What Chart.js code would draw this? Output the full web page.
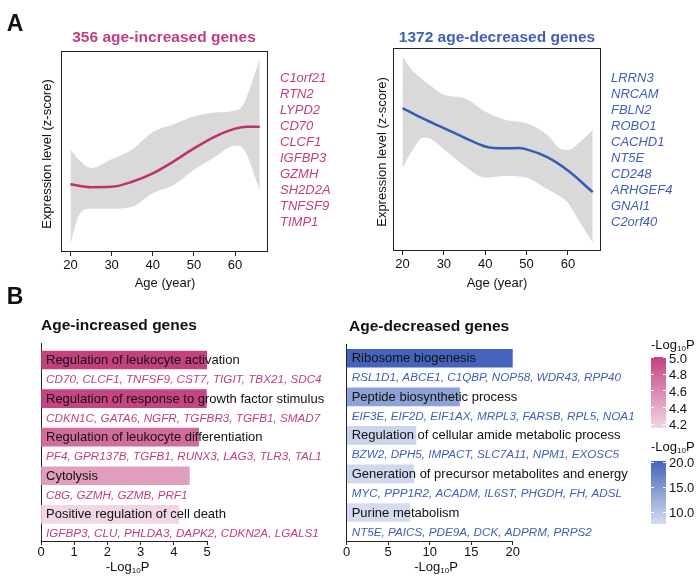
<!DOCTYPE html>
<html>
<head>
<meta charset="utf-8">
<script src="https://cdn.jsdelivr.net/npm/chart.js@4.4.1/dist/chart.umd.min.js"></script>
<style>
    body { margin: 0; background: #fff; font-family: 'Liberation Sans', Arial, sans-serif; }
    #fig { position: relative; width: 700px; height: 582px; overflow: hidden; background: #fff; }
    #fig canvas { position: absolute; }
    .t { position: absolute; white-space: nowrap; line-height: 1; transform: translate(-50%, -50%); color: #111; }
    .l { position: absolute; white-space: nowrap; line-height: 1; transform: translateY(-50%); color: #111; }
    .yt { position: absolute; white-space: nowrap; line-height: 14px; height: 14px; width: 160px; text-align: center;
          transform-origin: 0 0; transform: rotate(-90deg); color: #111; font-size: 13px; }
    .pink { color: #c23d80; }
    .blue { color: #3f5fb7; }
    .it { font-style: italic; }
    sub { font-size: 62%; vertical-align: -0.25em; line-height: 0; }
    .cbar { position: absolute; width: 15px; }
    .ctick { position: absolute; width: 3px; height: 1px; background: #fff; }
</style>
</head>
<body>
<div id="fig">
    <canvas id="incTrend" width="350" height="300" style="left:0;top:0"></canvas>
    <canvas id="decTrend" width="350" height="300" style="left:350px;top:0"></canvas>
    <canvas id="incBars" width="340" height="282" style="left:0;top:300px"></canvas>
    <canvas id="decBars" width="360" height="282" style="left:340px;top:300px"></canvas>

    <div class="t" style="left:15px;top:23px;font-size:23px;font-weight:bold">A</div>
    <div class="t" style="left:15px;top:296px;font-size:23px;font-weight:bold">B</div>

    <div class="t pink" style="left:164px;top:36.5px;font-size:15.5px;font-weight:bold">356 age-increased genes</div>
    <div class="t blue" style="left:497px;top:36.5px;font-size:15.5px;font-weight:bold">1372 age-decreased genes</div>

    <div class="yt" style="left:40px;top:234px">Expression level (z-score)</div>
    <div class="yt" style="left:375px;top:232px">Expression level (z-score)</div>

    <div class="t" style="left:165px;top:282px;font-size:13px">Age (year)</div>
    <div class="t" style="left:497px;top:282px;font-size:13px">Age (year)</div>

    <div class="l" style="left:41px;top:325px;font-size:15.5px;font-weight:bold">Age-increased genes</div>
    <div class="l" style="left:349px;top:326px;font-size:15.5px;font-weight:bold">Age-decreased genes</div>

    <div class="t" style="left:127.5px;top:566px;font-size:13px">-Log<sub>10</sub>P</div>
    <div class="t" style="left:436px;top:566px;font-size:13px">-Log<sub>10</sub>P</div>

    <div class="l" style="left:651px;top:344px;font-size:13px">-Log<sub>10</sub>P</div>
    <div class="l" style="left:651px;top:446px;font-size:13px">-Log<sub>10</sub>P</div>
</div>

<script>
// panel A: smoothed expression trajectories (z-score, plotted on a 0-10 box scale)
const ageTicks = [20, 30, 40, 50, 60];

const incEnvAges = [20, 22, 25, 30, 35, 40, 45, 50, 55, 60, 62, 66];
const incUpper = [4.9, 4.38, 3.95, 4.4, 4.9, 5.8, 6.2, 6.6, 6.8, 6.9, 7.2, 9.5];
const incLower = [0.2, 1.55, 1.9, 1.9, 2.0, 2.7, 3.1, 3.9, 4.55, 5.15, 5.0, 2.9];
const incTrendAges = [20, 25, 30, 35, 40, 45, 50, 55, 60, 63, 66];
const incTrendVals = [3.13, 2.98, 3.0, 3.26, 3.69, 4.3, 4.98, 5.58, 6.0, 6.1, 6.1];
const incTopGenes = ['C1orf21', 'RTN2', 'LYPD2', 'CD70', 'CLCF1', 'IGFBP3', 'GZMH', 'SH2D2A', 'TNFSF9', 'TIMP1'];

const decEnvAges = [20, 22, 25, 27, 30, 35, 40, 45, 50, 55, 58, 60, 63, 66];
const decUpper = [9.54, 8.9, 8.33, 8.0, 7.56, 7.39, 6.7, 6.27, 6.1, 5.5, 4.81, 4.73, 5.15, 5.76];
const decLower = [3.87, 4.64, 5.41, 5.33, 4.81, 3.95, 3.35, 3.44, 3.35, 2.75, 2.4, 2.06, 1.03, 0.03];
const decTrendAges = [20, 25, 30, 35, 40, 42, 45, 48, 50, 55, 60, 66];
const decTrendVals = [6.91, 6.36, 5.88, 5.38, 4.93, 4.85, 4.84, 4.85, 4.78, 4.38, 3.69, 2.58];
const decTopGenes = ['LRRN3', 'NRCAM', 'FBLN2', 'ROBO1', 'CACHD1', 'NT5E', 'CD248', 'ARHGEF4', 'GNAI1', 'C2orf40'];

// panel B: enrichment
const incTerms = ['Regulation of leukocyte activation', 'Regulation of response to growth factor stimulus',
    'Regulation of leukocyte differentiation', 'Cytolysis', 'Positive regulation of cell death'];
const incLogP = [5.0, 4.98, 4.75, 4.47, 4.15];
const incGenes = ['CD70, CLCF1, TNFSF9, CST7, TIGIT, TBX21, SDC4', 'CDKN1C, GATA6, NGFR, TGFBR3, TGFB1, SMAD7',
    'PF4, GPR137B, TGFB1, RUNX3, LAG3, TLR3, TAL1', 'C8G, GZMH, GZMB, PRF1',
    'IGFBP3, CLU, PHLDA3, DAPK2, CDKN2A, LGALS1'];
const incTicks = [0, 1, 2, 3, 4, 5];
const incScaleTicks = [5.0, 4.8, 4.6, 4.4, 4.2];

const decTerms = ['Ribosome biogenesis', 'Peptide biosynthetic process', 'Regulation of cellular amide metabolic process',
    'Generation of precursor metabolites and energy', 'Purine metabolism'];
const decLogP = [20.1, 13.6, 8.35, 8.05, 7.6];
const decGenes = ['RSL1D1, ABCE1, C1QBP, NOP58, WDR43, RPP40', 'EIF3E, EIF2D, EIF1AX, MRPL3, FARSB, RPL5, NOA1',
    'BZW2, DPH5, IMPACT, SLC7A11, NPM1, EXOSC5', 'MYC, PPP1R2, ACADM, IL6ST, PHGDH, FH, ADSL',
    'NT5E, PAICS, PDE9A, DCK, ADPRM, PRPS2'];
const decTicks = [0, 5, 10, 15, 20];
const decScaleTicks = [20.0, 15.0, 10.0];

const FONT = "'Liberation Sans', Arial, sans-serif";
const PINK = '#c23d80';
const BLUE = '#3f5fb7';
const GREY = '#d9d9d9';

const pts = (xs, ys) => xs.map((x, i) => ({ x: x, y: ys[i] }));

const hex = (h) => [1, 3, 5].map(k => parseInt(h.substr(k, 2), 16));
const mix = (lo, hi, f) => {
    const a = hex(lo), b = hex(hi);
    return 'rgb(' + a.map((v, k) => Math.round(v + (b[k] - v) * f)).join(',') + ')';
};
const shade = (vals, lo, hi) => {
    const mn = Math.min(...vals), mx = Math.max(...vals);
    return vals.map(v => mix(lo, hi, (v - mn) / (mx - mn)));
};

const boxPlugin = {
    id: 'box',
    afterDraw(chart) {
        const { ctx, chartArea: a } = chart;
        ctx.save();
        ctx.strokeStyle = '#222';
        ctx.lineWidth = 1;
        ctx.strokeRect(Math.round(a.left) + 0.5, Math.round(a.top) + 0.5,
            Math.round(a.right - a.left) - 1, Math.round(a.bottom - a.top) - 1);
        ctx.restore();
    }
};

function initTrendChart(id, envAges, upper, lower, trendAges, trendVals, color, pad, xHeight, yMin) {
    return new Chart(document.getElementById(id), {
        type: 'line',
        data: {
            datasets: [{
                data: pts(trendAges, trendVals),
                borderColor: color,
                borderWidth: 2.5,
                fill: false,
                order: 0
            }, {
                data: pts(envAges, upper),
                borderColor: GREY,
                backgroundColor: GREY,
                borderWidth: 1,
                fill: '+1',
                order: 1
            }, {
                data: pts(envAges, lower),
                borderColor: GREY,
                borderWidth: 1,
                fill: false,
                order: 1
            }]
        },
        options: {
            responsive: false,
            animation: false,
            layout: { padding: pad },
            elements: { point: { radius: 0 }, line: { tension: 0.4, cubicInterpolationMode: 'monotone' } },
            plugins: { legend: { display: false }, tooltip: { enabled: false } },
            scales: {
                x: {
                    type: 'linear',
                    min: 17.7,
                    max: 68,
                    afterBuildTicks: s => { s.ticks = ageTicks.map(v => ({ value: v })); },
                    afterFit: s => { s.height = xHeight; },
                    grid: { drawOnChartArea: false, drawTicks: true, tickLength: 4, color: '#222' },
                    border: { display: false },
                    ticks: { font: { family: FONT, size: 13 }, color: '#111', padding: 2, maxRotation: 0 }
                },
                y: { display: false, min: yMin, max: 10 }
            }
        },
        plugins: [boxPlugin]
    });
}

function termPlugin(terms, genes, geneColor) {
    return {
        id: 'terms',
        afterDatasetsDraw(chart) {
            const { ctx } = chart;
            const xs = chart.scales.x, ys = chart.scales.y;
            const x0 = xs.getPixelForValue(0);
            ctx.save();
            ctx.textBaseline = 'middle';
            ctx.textAlign = 'left';
            terms.forEach((t, i) => {
                ctx.fillStyle = '#111';
                ctx.font = '13px ' + FONT;
                ctx.fillText(t, x0 + 5, ys.getPixelForValue(i) + 0.5);
                ctx.fillStyle = geneColor;
                ctx.font = 'italic 11.7px ' + FONT;
                ctx.fillText(genes[i], x0 + 5, ys.getPixelForValue(i + 0.5) + 0.5);
            });
            ctx.restore();
        }
    };
}

function initTermChart(id, terms, logP, genes, ticks, xMax, colors, geneColor, pad, yMin, yMax) {
    return new Chart(document.getElementById(id), {
        type: 'bar',
        data: {
            datasets: [{
                data: logP.map((v, i) => ({ x: v, y: i })),
                backgroundColor: colors,
                borderWidth: 0,
                barThickness: 18
            }]
        },
        options: {
            indexAxis: 'y',
            responsive: false,
            animation: false,
            layout: { padding: pad },
            plugins: { legend: { display: false }, tooltip: { enabled: false } },
            scales: {
                x: {
                    type: 'linear',
                    min: 0,
                    max: xMax,
                    afterBuildTicks: s => { s.ticks = ticks.map(v => ({ value: v })); },
                    afterFit: s => { s.height = 41; },
                    grid: { drawOnChartArea: false, drawTicks: true, tickLength: 4, color: '#222' },
                    border: { display: true, color: '#222', width: 1 },
                    ticks: { font: { family: FONT, size: 13 }, color: '#111', padding: 0, maxRotation: 0 }
                },
                y: {
                    type: 'linear',
                    reverse: true,
                    offset: false,
                    min: yMin,
                    max: yMax,
                    afterFit: s => { s.width = 0; },
                    ticks: { display: false },
                    grid: { display: false, offset: false },
                    border: { display: true, color: '#222', width: 1 }
                }
            }
        },
        plugins: [termPlugin(terms, genes, geneColor)]
    });
}

const incColors = shade(incLogP, '#f3d6e5', '#c4407f');
const decColors = shade(decLogP, '#d5dcef', '#4464bb');

initTrendChart('incTrend', incEnvAges, incUpper, incLower, incTrendAges, incTrendVals, '#c0306f',
    { left: 61, top: 51, right: 82, bottom: 0 }, 48, -0.36);
initTrendChart('decTrend', decEnvAges, decUpper, decLower, decTrendAges, decTrendVals, '#3a5bb5',
    { left: 43, top: 48, right: 99, bottom: 0 }, 49, -0.45);

initTermChart('incBars', incTerms, incLogP, incGenes, incTicks, 5, incColors, PINK,
    { left: 41, top: 43, right: 133, bottom: 0 }, -0.44, 4.69);
initTermChart('decBars', decTerms, decLogP, decGenes, decTicks, 20, decColors, BLUE,
    { left: 6.7, top: 44, right: 187.3, bottom: 0 }, -0.37, 4.74);

// gene lists next to panel A
const fig = document.getElementById('fig');
function geneList(genes, left, cls) {
    genes.forEach((g, i) => {
        const d = document.createElement('div');
        d.className = 'l it ' + cls;
        d.style.left = left + 'px';
        d.style.top = (77.3 + i * 15.93) + 'px';
        d.style.fontSize = '13px';
        d.textContent = g;
        fig.appendChild(d);
    });
}
geneList(incTopGenes, 280, 'pink');
geneList(decTopGenes, 611, 'blue');

// colour keys
function colorKey(vals, labels, top, height, lo, hi) {
    const mn = Math.min(...vals), mx = Math.max(...vals);
    const bar = document.createElement('div');
    bar.className = 'cbar';
    bar.style.left = '651px';
    bar.style.top = top + 'px';
    bar.style.height = height + 'px';
    bar.style.background = 'linear-gradient(to bottom, ' + hi + ', ' + lo + ')';
    fig.appendChild(bar);
    labels.forEach(v => {
        const y = top + (mx - v) / (mx - mn) * height;
        [651, 663].forEach(x => {
            const tk = document.createElement('div');
            tk.className = 'ctick';
            tk.style.left = x + 'px';
            tk.style.top = Math.round(y) + 'px';
            fig.appendChild(tk);
        });
        const d = document.createElement('div');
        d.className = 'l';
        d.style.left = '669px';
        d.style.top = (y + 0.5) + 'px';
        d.style.fontSize = '13px';
        d.textContent = v.toFixed(1);
        fig.appendChild(d);
    });
}
colorKey(incLogP, incScaleTicks, 357, 71, '#f3d6e5', '#c4407f');
colorKey(decLogP, decScaleTicks, 461, 63, '#d5dcef', '#4464bb');
</script>
</body>
</html>
